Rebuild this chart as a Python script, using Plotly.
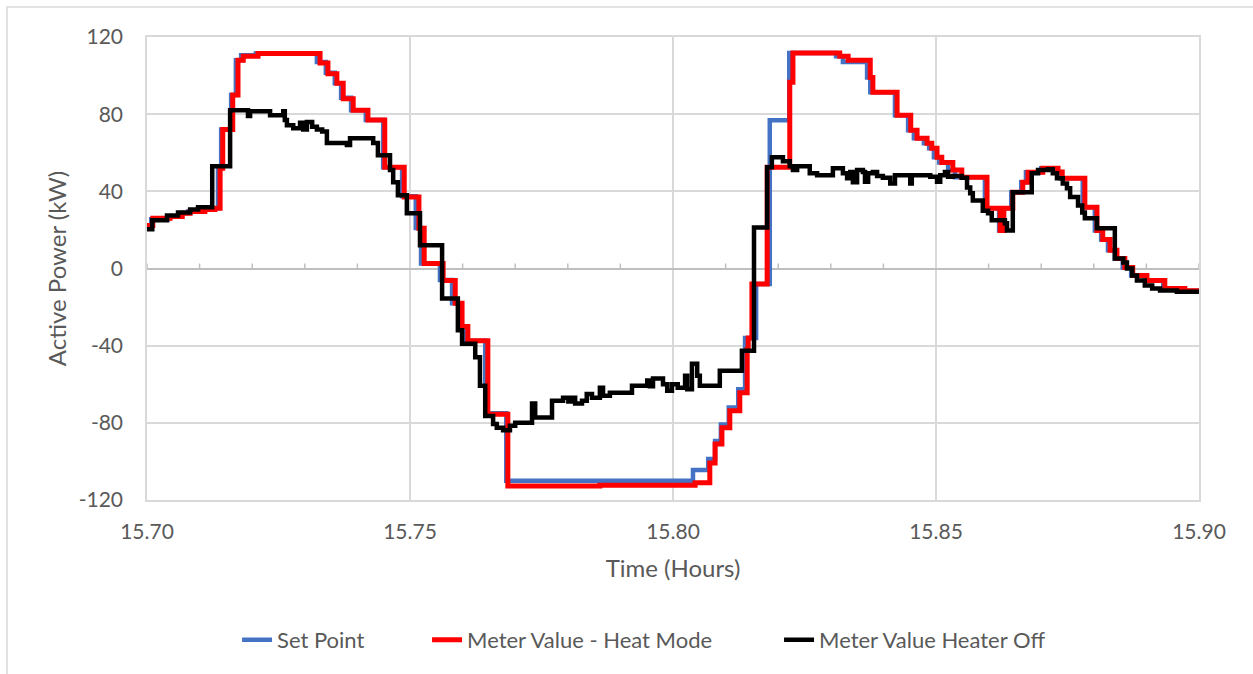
import numpy as np
import plotly.graph_objects as go

# Set point (kW) vs time (hours)
set_point_t = [15.7000, 15.7008, 15.7040, 15.7063, 15.7078, 15.7106, 15.7125, 15.7135, 15.7141, 15.7160,
               15.7169, 15.7179, 15.7207, 15.7323, 15.7340, 15.7357, 15.7369, 15.7388, 15.7416, 15.7449,
               15.7485, 15.7511, 15.7521, 15.7557, 15.7580, 15.7595, 15.7605, 15.7643, 15.7683, 15.8038,
               15.8067, 15.8080, 15.8091, 15.8106, 15.8124, 15.8137, 15.8158, 15.8184, 15.8221, 15.8310,
               15.8323, 15.8369, 15.8375, 15.8422, 15.8447, 15.8458, 15.8477, 15.8487, 15.8496, 15.8506,
               15.8523, 15.8536, 15.8593, 15.8620, 15.8625, 15.8643, 15.8662, 15.8671, 15.8700, 15.8728,
               15.8736, 15.8779, 15.8802, 15.8814, 15.8827, 15.8840, 15.8855, 15.8871, 15.8897, 15.8932,
               15.8970, 15.9000]
set_point_kw = [22.3, 25.5, 27.0, 28.6, 29.6, 30.6, 31.2, 52.0, 72.0, 90.0,
                108.0, 110.5, 111.5, 107.0, 101.5, 96.0, 88.5, 82.0, 77.0, 52.5,
                37.5, 21.0, 2.6, -6.0, -18.0, -30.0, -37.4, -75.0, -110.0, -104.5,
                -98.7, -89.4, -80.8, -72.0, -62.6, -36.0, -8.0, 76.9, 111.7, 110.0,
                107.0, 99.0, 91.4, 79.5, 71.7, 67.5, 64.9, 62.3, 57.7, 55.0,
                51.0, 47.3, 31.2, 19.7, 31.2, 39.5, 44.7, 49.9, 52.0, 50.0,
                46.8, 31.7, 19.7, 15.0, 9.4, 5.2, 0.5, -3.6, -6.2, -10.4,
                -11.5, -12.0]

# Meter reading with heater in heat mode
heat_t = [15.7000, 15.7011, 15.7044, 15.7067, 15.7082, 15.7110, 15.7129, 15.7139, 15.7144, 15.7163,
          15.7173, 15.7183, 15.7211, 15.7329, 15.7344, 15.7361, 15.7373, 15.7392, 15.7420, 15.7452,
          15.7489, 15.7517, 15.7527, 15.7563, 15.7586, 15.7599, 15.7610, 15.7648, 15.7686, 15.7861,
          15.8042, 15.8070, 15.8080, 15.8093, 15.8108, 15.8127, 15.8141, 15.8143, 15.8150, 15.8179,
          15.8222, 15.8228, 15.8317, 15.8333, 15.8375, 15.8380, 15.8426, 15.8452, 15.8464, 15.8483,
          15.8492, 15.8502, 15.8511, 15.8532, 15.8549, 15.8597, 15.8622, 15.8629, 15.8646, 15.8665,
          15.8675, 15.8703, 15.8732, 15.8740, 15.8783, 15.8806, 15.8817, 15.8831, 15.8844, 15.8859,
          15.8874, 15.8901, 15.8935, 15.8973, 15.9000]
heat_kw = [22.3, 26.0, 27.0, 28.6, 29.6, 30.6, 31.2, 52.0, 72.0, 90.0,
           108.0, 110.0, 111.5, 106.5, 101.0, 96.0, 88.0, 82.0, 77.0, 52.5,
           37.0, 20.8, 2.6, -6.2, -18.0, -30.0, -37.4, -75.5, -112.7, -112.3,
           -111.0, -100.8, -91.0, -82.6, -73.8, -64.4, -42.0, -36.0, -8.0, 52.5,
           96.6, 111.7, 110.0, 108.0, 99.0, 91.4, 79.5, 71.7, 67.5, 64.9,
           62.3, 57.7, 55.0, 51.0, 47.3, 31.2, 19.7, 31.2, 39.5, 44.7,
           49.9, 52.0, 50.0, 46.8, 31.7, 19.7, 15.0, 9.4, 5.2, 0.5,
           -3.6, -6.2, -10.4, -11.5, -12.0]

# Meter reading with heater switched off
off_t = [15.7000, 15.7010, 15.7038, 15.7059, 15.7082, 15.7097, 15.7124, 15.7158, 15.7192, 15.7196,
         15.7234, 15.7259, 15.7262, 15.7266, 15.7278, 15.7291, 15.7297, 15.7304, 15.7314, 15.7323,
         15.7333, 15.7342, 15.7380, 15.7386, 15.7430, 15.7439, 15.7462, 15.7468, 15.7477, 15.7494,
         15.7519, 15.7561, 15.7591, 15.7599, 15.7624, 15.7633, 15.7643, 15.7658, 15.7665, 15.7677,
         15.7690, 15.7700, 15.7732, 15.7738, 15.7770, 15.7791, 15.7801, 15.7808, 15.7814, 15.7827,
         15.7836, 15.7846, 15.7861, 15.7867, 15.7880, 15.7922, 15.7951, 15.7956, 15.7962, 15.7981,
         15.7989, 15.7998, 15.8009, 15.8023, 15.8027, 15.8036, 15.8046, 15.8051, 15.8089, 15.8131,
         15.8154, 15.8179, 15.8188, 15.8209, 15.8222, 15.8228, 15.8236, 15.8260, 15.8274, 15.8304,
         15.8323, 15.8331, 15.8337, 15.8342, 15.8350, 15.8361, 15.8365, 15.8371, 15.8380, 15.8388,
         15.8399, 15.8413, 15.8422, 15.8451, 15.8454, 15.8489, 15.8502, 15.8508, 15.8517, 15.8523,
         15.8532, 15.8549, 15.8559, 15.8565, 15.8570, 15.8589, 15.8599, 15.8606, 15.8631, 15.8635,
         15.8646, 15.8682, 15.8694, 15.8713, 15.8722, 15.8730, 15.8741, 15.8749, 15.8755, 15.8770,
         15.8778, 15.8783, 15.8806, 15.8840, 15.8856, 15.8863, 15.8873, 15.8882, 15.8897, 15.8911,
         15.8926, 15.8958, 15.9000]
off_kw = [20.3, 25.0, 27.5, 29.0, 30.6, 31.7, 53.0, 82.0, 79.0, 81.5,
          79.5, 81.5, 77.0, 74.3, 72.7, 75.6, 72.0, 76.0, 73.5, 72.0,
          71.0, 65.0, 64.0, 67.5, 65.0, 58.7, 51.0, 44.7, 38.0, 28.6,
          12.0, -15.6, -32.0, -39.0, -46.0, -60.8, -76.4, -80.6, -82.6, -83.8,
          -81.5, -80.0, -70.0, -77.3, -68.6, -67.0, -69.0, -67.0, -70.0, -68.6,
          -65.0, -67.0, -61.8, -66.0, -64.4, -60.8, -58.0, -61.0, -57.0, -60.0,
          -63.4, -60.0, -61.8, -55.6, -62.6, -49.4, -55.6, -60.8, -53.0, -42.6,
          21.3, 52.5, 57.7, 55.6, 53.0, 51.0, 53.0, 49.4, 48.3, 52.0,
          49.4, 46.8, 50.0, 44.7, 51.0, 50.0, 45.0, 49.4, 50.0, 48.0,
          47.0, 44.0, 48.3, 44.0, 48.3, 47.5, 45.0, 48.3, 50.0, 47.5,
          48.0, 47.0, 42.0, 39.0, 35.3, 30.0, 28.6, 25.0, 23.4, 19.7,
          39.5, 49.4, 51.0, 51.5, 49.4, 46.8, 44.0, 41.6, 37.0, 32.7,
          29.0, 26.0, 20.8, 5.2, 3.1, 0.0, -3.6, -6.2, -8.8, -10.4,
          -11.4, -12.0, -12.5]

x_ticks = [15.70, 15.75, 15.80, 15.85, 15.90]
x_tick_labels = ["15.70", "15.75", "15.80", "15.85", "15.90"]
y_ticks = [-120, -80, -40, 0, 40, 80, 120]
y_tick_labels = ["-120", "-80", "-40", "0", "40", "80", "120"]

FONT = "Lato, 'Noto Sans', sans-serif"
TEXT_GREY = "#595959"
GRID = "#D9D9D9"
AXIS = "#BFBFBF"

fig = go.Figure()
fig.add_trace(go.Scatter(x=set_point_t, y=set_point_kw, name="Set Point", mode="lines", showlegend=True,
                         line=dict(color="#4472C4", width=4.5, shape="hv"), legend="legend"))
fig.add_trace(go.Scatter(x=heat_t, y=heat_kw, name="Meter Value - Heat Mode", mode="lines", showlegend=True,
                         line=dict(color="#FF0000", width=5, shape="hv"), legend="legend2"))
fig.add_trace(go.Scatter(x=off_t, y=off_kw, name="Meter Value Heater Off", mode="lines", showlegend=True,
                         line=dict(color="#000000", width=4.5, shape="hv"), legend="legend3"))

# minor tick marks every 0.01 h sitting on the zero line
minor_ticks = np.round(np.arange(15.70, 15.9001, 0.01), 2)
tick_shapes = [dict(type="line", xref="x", yref="y", ysizemode="pixel", yanchor=0,
                    x0=t, x1=t, y0=0, y1=5, line=dict(color=AXIS, width=1.5), layer="below")
               for t in minor_ticks]

# outer chart frame
frame = dict(type="rect", xref="paper", yref="paper", x0=-0.1331, x1=1.2, y0=-0.6, y1=1.0648,
             line=dict(color=GRID, width=1.5), fillcolor="rgba(0,0,0,0)", layer="below")

legend_style = dict(orientation="h", y=-0.302, yanchor="middle", xanchor="left",
                    font=dict(family=FONT, size=22, color=TEXT_GREY), bgcolor="rgba(0,0,0,0)")

fig.update_layout(
    width=1253, height=674,
    margin=dict(l=147, r=54, t=37, b=174),
    paper_bgcolor="white", plot_bgcolor="white",
    showlegend=True,
    font=dict(family=FONT, color=TEXT_GREY, size=21),
    xaxis=dict(
        range=[15.70, 15.90], tickvals=x_ticks, ticktext=x_tick_labels,
        showgrid=True, gridcolor=GRID, gridwidth=1.5, zeroline=False,
        showline=True, mirror=True, linecolor=GRID, linewidth=1.5,
        ticks="", ticklabelstandoff=12,
        tickfont=dict(family=FONT, size=21, color=TEXT_GREY),
        title=dict(text="Time (Hours)", font=dict(family=FONT, size=24, color=TEXT_GREY), standoff=18),
    ),
    yaxis=dict(
        range=[-120, 120], tickvals=y_ticks, ticktext=y_tick_labels,
        showgrid=True, gridcolor=GRID, gridwidth=1.5,
        zeroline=True, zerolinecolor=AXIS, zerolinewidth=1.5,
        showline=True, mirror=True, linecolor=GRID, linewidth=1.5,
        ticks="", ticklabelstandoff=18,
        tickfont=dict(family=FONT, size=21, color=TEXT_GREY),
        title=dict(text="Active Power (kW)", font=dict(family=FONT, size=24, color=TEXT_GREY), standoff=5),
    ),
    legend=dict(x=0.0856, **legend_style),
    legend2=dict(x=0.2662, **legend_style),
    legend3=dict(x=0.6008, **legend_style),
    shapes=[frame] + tick_shapes,
)

fig.write_html("out.html")
